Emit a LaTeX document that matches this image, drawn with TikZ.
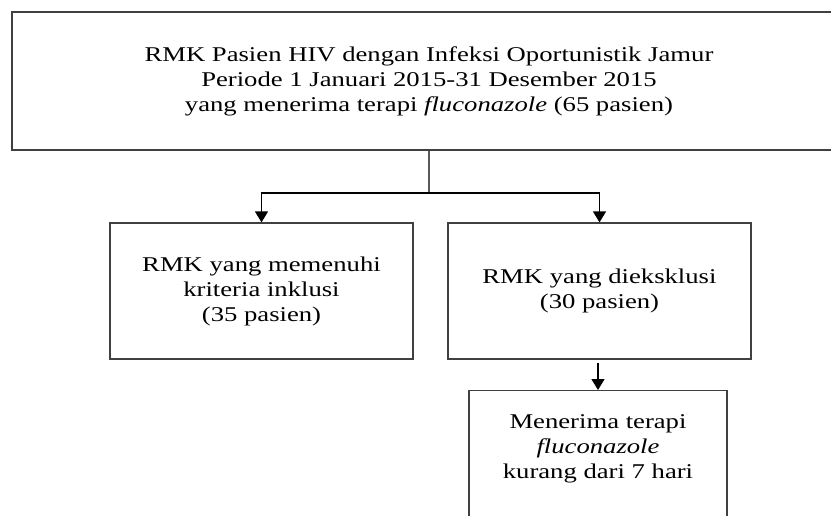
\documentclass[tikz,border=0pt]{standalone}
\usepackage{fontspec}
\setmainfont{Liberation Serif}[FakeStretch=1.27]
\usetikzlibrary{positioning,arrows.meta}

\begin{document}
\begin{tikzpicture}[x=1pt, y=-1pt,
        every node/.style={draw=black!75, line width=1.3pt, align=center, inner sep=0pt,
            font=\fontsize{21}{25}\selectfont},
        link/.style={line width=1.3pt, draw=black!65},
        arrow/.style={line width=1.5pt, draw=black, -{Triangle[width=13pt,length=11pt]}}]
            \useasboundingbox (0,0) rectangle (831,515);
            \clip (0,0) rectangle (831,515);

            % Draw the boxes
            \node[minimum width=834pt, minimum height=138pt] (rmk) at (429,81)
                {RMK Pasien HIV dengan Infeksi Oportunistik Jamur\\
                 Periode 1 Januari 2015-31 Desember 2015\\
                 yang menerima terapi \textit{fluconazole} (65 pasien)};
            \node[minimum width=303pt, minimum height=136pt] (incl) at (261.5,291)
                {RMK yang memenuhi\\ kriteria inklusi\\ (35 pasien)};
            \node[minimum width=303pt, minimum height=136pt] (excl) at (599.5,291)
                {RMK yang dieksklusi\\ (30 pasien)};
            \node[anchor=north, minimum width=258pt, inner ysep=24pt, text depth=80pt] (short) at (598,390)
                {Menerima terapi\\ \textit{fluconazole}\\ kurang dari 7 hari};

            % Draw the connectors
            \coordinate (split) at (429,193);
            \draw[link] (rmk) -- (split);
            \draw[link] (incl.north |- split) -- (excl.north |- split);
            \draw[arrow] (split) -| (incl);
            \draw[arrow] (split) -| (excl);
            \draw[arrow] (short.north |- excl.south) ++(0,3) -- (short.north);
        \end{tikzpicture}
\end{document}
